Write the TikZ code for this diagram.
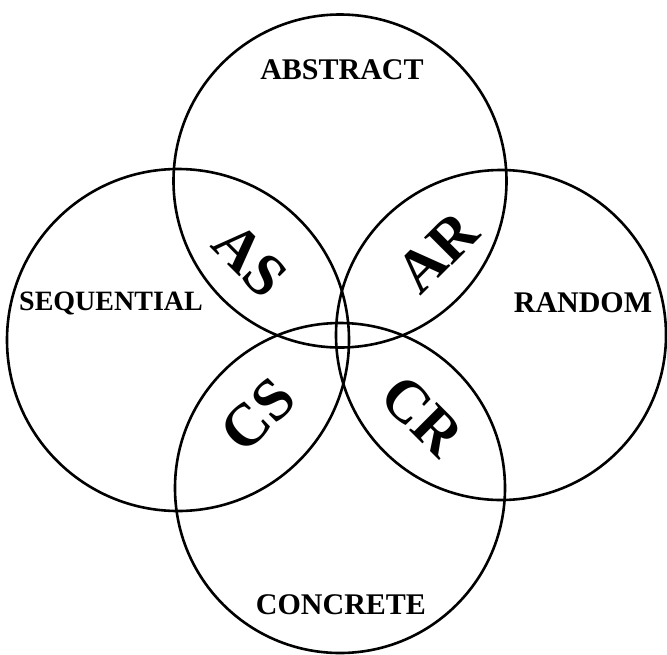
\documentclass[tikz,border=0pt]{standalone}
\usepackage{fontspec}
\setmainfont{Liberation Serif}
\usepackage{tikz}
\usetikzlibrary{positioning}

\begin{document}
\begin{tikzpicture}[x=1pt,y=-1pt,
    style ring/.style={draw=black,circle,line width=2.6pt,inner sep=0pt},
    style name/.style={font=\fontsize{30}{30}\selectfont\bfseries},
    style pair/.style={font=\fontsize{60}{60}\selectfont\bfseries,inner sep=0pt}]
    \useasboundingbox (0,0) rectangle (667,654);
    % the four circles
    \node[style ring,minimum size=333pt] (abstract)   at (340,181) {};
    \node[style ring,minimum size=342pt] (sequential) at (178,340) {};
    \node[style ring,minimum size=330pt] (random)     at (501,335) {};
    \node[style ring,minimum size=330pt] (concrete)   at (340,488) {};
    % style names
    \node[style name] (abstractlbl)   at (342,70)  {ABSTRACT};
    \node[style name,font=\fontsize{28}{28}\selectfont\bfseries] (sequentiallbl) at (111,303) {SEQUENTIAL};
    \node[style name] (randomlbl)     at (583,303) {RANDOM};
    \node[style name] (concretelbl)   at (341,605) {CONCRETE};
    % overlaps
    \node[style pair,rotate=-45] (as) at (250,260) {AS};
    \node[style pair,rotate=45]  (ar) at (437,252) {AR};
    \node[style pair,rotate=45]  (cs) at (258,415) {CS};
    \node[style pair,rotate=-45] (cr) at (422,416) {CR};
\end{tikzpicture}
\end{document}
